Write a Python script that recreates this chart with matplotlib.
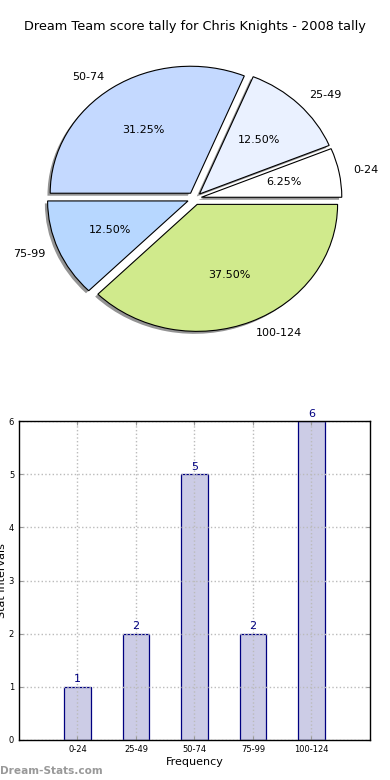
import matplotlib
matplotlib.use("Agg")
import matplotlib.pyplot as plt

# Data
pie_labels = ["0-24", "25-49", "50-74", "75-99", "100-124"]
pie_values = [6.25, 12.5, 31.25, 12.5, 37.5]
pie_colors = ["#FFFFFF", "#EAF1FF", "#C4D9FF", "#B7D7FF", "#D0EA8C"]

bar_categories = ["0-24", "25-49", "50-74", "75-99", "100-124"]
bar_counts = [1, 2, 5, 2, 6]

title = "Dream Team score tally for Chris Knights - 2008 tally"

fig = plt.figure(figsize=(3.9, 7.8), dpi=100)

# Pie
ax1 = fig.add_axes([0.0487, 0.542, 0.90, 0.407])
wedges, texts, autotexts = ax1.pie(
    pie_values, labels=pie_labels, colors=pie_colors,
    explode=[0.05] * len(pie_values), autopct="%.2f%%",
    shadow=dict(ox=-0.014, oy=-0.014, facecolor="#888888",
                edgecolor="none", alpha=0.9),
    startangle=0, wedgeprops=dict(edgecolor="black", linewidth=0.8),
    textprops=dict(fontsize=8))
ax1.set_aspect("auto")
ax1.set_xlim(-1.25, 1.25)
ax1.set_ylim(-1.25, 1.25)
ax1.set_title(title, fontsize=9.3, pad=7)

# Bar
ax2 = fig.add_axes([0.0487, 0.0513, 0.90, 0.4087])
x = list(range(len(bar_categories)))
bars = ax2.bar(x, bar_counts, width=0.45, color="#CCCCE6",
               edgecolor="navy", linewidth=0.9, zorder=1)
for xi, v in zip(x, bar_counts):
    ax2.text(xi, v + 0.05, str(v), ha="center", va="bottom",
             color="navy", fontsize=8)
ax2.set_xlim(-1, 5)
ax2.set_ylim(0, 6)
ax2.set_xticks(x)
ax2.set_xticklabels(bar_categories, fontsize=6)
ax2.set_yticks(range(0, 7))
ax2.tick_params(axis="both", labelsize=6, direction="in", top=True,
                right=True, length=3, colors="#999999", labelcolor="black")
ax2.grid(True, linestyle=":", color="#BBBBBB", linewidth=1.0, zorder=3)
ax2.set_axisbelow(False)
ax2.set_xlabel("Frequency", fontsize=8, labelpad=2)
ax2.set_ylabel("Stat Intervals", fontsize=8, labelpad=1)
for s in ax2.spines.values():
    s.set_linewidth(1.0)
    s.set_zorder(5)

fig.text(0.0, 0.005, "Dream-Stats.com", fontsize=7.6, color="#999999",
         fontweight="bold", ha="left", va="bottom")

fig.savefig("out.png", dpi=100)
